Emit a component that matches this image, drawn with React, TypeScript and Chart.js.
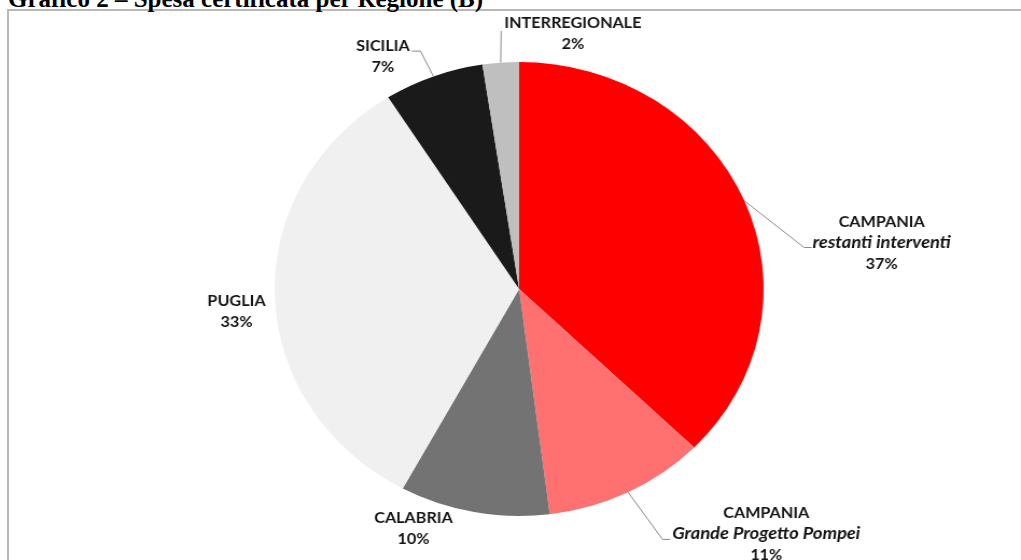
import React, { useEffect, useRef } from "react";
import { Chart, registerables } from "chart.js";

Chart.register(...registerables);

// ---- data ----
const categories = [
  "CAMPANIA restanti interventi",
  "CAMPANIA Grande Progetto Pompei",
  "CALABRIA",
  "PUGLIA",
  "SICILIA",
  "INTERREGIONALE",
];
const labelTitles = ["CAMPANIA", "CAMPANIA", "CALABRIA", "PUGLIA", "SICILIA", "INTERREGIONALE"];
const labelSubtitles = ["restanti interventi", "Grande Progetto Pompei", "", "", "", ""];
const shares = [37.3, 10.7, 9.9, 33.1, 6.6, 2.4];

// ---- styles ----
const sliceColors = ["#FF0000", "#FF7171", "#737373", "#F0F0F0", "#1A1A1A", "#BFBFBF"];
// label block centre, in units of the pie radius from the pie centre
const labelPlacement: [number, number][] = [
  [1.483, -0.207],
  [1.011, 1.079],
  [-0.432, 1.053],
  [-1.156, 0.095],
  [-0.557, -1.026],
  [0.22, -1.128],
];
type Leader = { line: number; side: "left" | "right"; gap: number; stub: number; dy: number } | null;
const leaders: Leader[] = [
  { line: 1, side: "left", gap: 1, stub: 7, dy: 0 },
  { line: 1, side: "left", gap: 2, stub: 7, dy: 0 },
  null,
  null,
  { line: 0, side: "right", gap: 2, stub: 8, dy: 0 },
  { line: 0, side: "left", gap: 3, stub: 0, dy: 3 },
];

const FONT_FAMILY = "Lato, 'Noto Sans', sans-serif";
const FONT_SIZE = 15;
const ITALIC_SIZE = 17;
const LINE_H = 21;
const BASE_OFF = 16;
const STRETCH = 1.077;
const CANVAS_W = 948;
const CANVAS_H = 560;

const labelPlugin = {
  id: "sliceLabels",
  afterDraw(chart: any) {
    const ctx = chart.ctx as CanvasRenderingContext2D;
    const meta = chart.getDatasetMeta(0);
    const total = shares.reduce((a, b) => a + b, 0);
    const bold = `bold ${FONT_SIZE}px ${FONT_FAMILY}`;
    const italic = `italic bold ${ITALIC_SIZE}px ${FONT_FAMILY}`;
    ctx.save();
    meta.data.forEach((arc: any, i: number) => {
      const p = arc.getProps(["x", "y", "startAngle", "endAngle", "outerRadius"], true);
      const lines: { text: string; font: string }[] = [{ text: labelTitles[i], font: bold }];
      if (labelSubtitles[i]) lines.push({ text: labelSubtitles[i], font: italic });
      lines.push({ text: `${Math.round((shares[i] / total) * 100)}%`, font: bold });
      const [fx, fy] = labelPlacement[i];
      const cx = p.x + fx * p.outerRadius;
      const cy = p.y + fy * p.outerRadius;
      const top = cy - (lines.length * LINE_H) / 2;
      ctx.fillStyle = "#141414";
      ctx.textAlign = "center";
      ctx.textBaseline = "alphabetic";
      lines.forEach((ln, k) => {
        ctx.font = ln.font;
        ctx.fillText(ln.text, cx, top + k * LINE_H + BASE_OFF);
      });
      const ld = leaders[i];
      if (ld) {
        const mid = (p.startAngle + p.endAngle) / 2;
        const sx = p.x + Math.cos(mid) * p.outerRadius;
        const sy = p.y + Math.sin(mid) * p.outerRadius;
        ctx.font = lines[ld.line].font;
        const w = ctx.measureText(lines[ld.line].text).width;
        const by = top + ld.line * LINE_H + BASE_OFF + ld.dy;
        const ex = ld.side === "left" ? cx - w / 2 - ld.gap : cx + w / 2 + ld.gap;
        const elx = ld.side === "left" ? ex - ld.stub : ex + ld.stub;
        ctx.strokeStyle = "#8a8a8a";
        ctx.lineWidth = 1;
        ctx.beginPath();
        ctx.moveTo(sx, sy);
        ctx.lineTo(elx, by);
        ctx.lineTo(ex, by);
        ctx.stroke();
      }
    });
    ctx.restore();
  },
};

export default function App() {
  const canvasRef = useRef<HTMLCanvasElement | null>(null);
  useEffect(() => {
    if (!canvasRef.current) return;
    const chart = new Chart(canvasRef.current, {
      type: "pie",
      data: {
        labels: categories,
        datasets: [
          {
            data: shares,
            backgroundColor: sliceColors,
            borderWidth: 0,
            hoverOffset: 0,
          },
        ],
      },
      options: {
        responsive: false,
        animation: false,
        devicePixelRatio: 1,
        layout: { padding: { left: 255, right: 239, top: 62, bottom: 44 } },
        plugins: {
          legend: { display: false },
          tooltip: { enabled: false },
        },
      },
      plugins: [labelPlugin],
    } as any);
    return () => chart.destroy();
  }, []);

  return (
    <div
      style={{
        position: "fixed",
        left: 0,
        top: 0,
        width: 1021,
        height: 560,
        overflow: "hidden",
        background: "#fff",
      }}
    >
      <div
        style={{
          position: "absolute",
          left: 7,
          top: 9,
          width: 1100,
          height: 700,
          border: "2px solid #b8b8b8",
          boxSizing: "border-box",
        }}
      />
      <div
        style={{
          position: "absolute",
          left: 8,
          top: -14,
          fontFamily: "'Liberation Serif', 'Times New Roman', serif",
          fontWeight: "bold",
          fontSize: 25,
          lineHeight: "25px",
          whiteSpace: "nowrap",
          color: "#000",
        }}
      >
        Grafico 2 – Spesa certificata per Regione (B)
      </div>
      <canvas
        ref={canvasRef}
        width={CANVAS_W}
        height={CANVAS_H}
        style={{
          position: "absolute",
          left: 0,
          top: 0,
          width: CANVAS_W,
          height: CANVAS_H,
          transform: `scaleX(${STRETCH})`,
          transformOrigin: "0 0",
        }}
      />
    </div>
  );
}
